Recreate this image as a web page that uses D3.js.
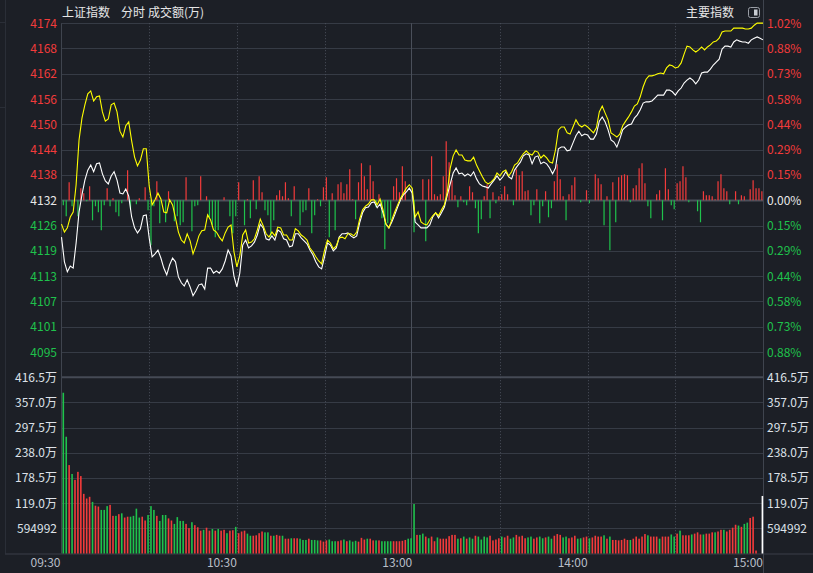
<!DOCTYPE html>
<html>
<head>
<meta charset="utf-8">
<script src="https://cdn.jsdelivr.net/npm/d3@7"></script>
<style>
  html, body { margin: 0; padding: 0; background: #1c1f26; }
  svg { display: block; font-family: "Noto Sans CJK SC", "Noto Sans", sans-serif; }
</style>
</head>
<body>
<svg id="chart" width="813" height="573"></svg>
<script>
// 上证指数 one-minute series, 09:30 .. 11:30 + 13:01 .. 15:00 (241 points)
var indexPrice = [
  4123.4,4117.5,4115.1,4116.5,4116.0,4122.0,4129.4,4133.5,4137.0,4139.4,
  4140.6,4139.0,4140.9,4141.1,4138.5,4136.8,4136.1,4138.0,4139.0,4137.0,
  4133.9,4133.7,4134.9,4133.2,4128.2,4125.6,4124.4,4125.4,4128.5,4128.7,
  4123.2,4118.7,4119.4,4120.3,4118.4,4116.0,4114.4,4116.8,4118.4,4117.5,
  4113.9,4112.5,4111.7,4113.2,4111.5,4109.4,4110.6,4112.0,4112.2,4111.0,
  4116.0,4116.0,4114.8,4115.3,4114.8,4115.8,4117.7,4120.3,4118.9,4114.1,
  4111.5,4114.8,4121.5,4122.7,4120.8,4121.3,4122.2,4123.9,4126.5,4125.6,
  4123.0,4122.7,4123.7,4122.7,4125.1,4124.6,4123.0,4122.7,4121.1,4121.3,
  4124.2,4124.2,4123.2,4122.5,4121.8,4120.3,4119.2,4117.5,4116.3,4115.8,
  4118.7,4122.0,4121.5,4120.1,4120.8,4123.4,4124.2,4124.2,4124.4,4123.7,
  4123.2,4123.7,4126.8,4129.2,4130.4,4130.6,4131.6,4131.8,4130.4,4131.3,
  4129.2,4126.5,4125.6,4127.0,4128.7,4130.6,4132.3,4133.5,4134.2,4135.1,
  4133.9,4127.0,4126.3,4125.6,4125.6,4125.6,4126.3,4128.2,4129.2,4128.0,
  4129.2,4130.6,4133.5,4136.1,4138.7,4139.9,4138.5,4138.7,4138.0,4138.5,
  4138.0,4139.0,4137.3,4136.1,4135.6,4135.4,4135.1,4136.1,4137.0,4138.0,
  4137.0,4137.8,4139.0,4137.8,4137.3,4139.4,4140.4,4141.3,4142.8,4143.3,
  4143.0,4140.9,4142.5,4142.8,4140.9,4141.3,4140.9,4139.9,4138.5,4139.9,
  4144.5,4144.9,4144.9,4144.0,4144.2,4145.9,4147.6,4148.7,4147.6,4148.0,
  4147.8,4146.8,4146.8,4148.0,4151.1,4152.1,4150.9,4149.0,4146.6,4146.1,
  4144.9,4146.8,4149.0,4149.7,4150.2,4150.4,4151.8,4152.6,4153.8,4155.4,
  4155.7,4155.7,4155.9,4156.6,4157.3,4157.3,4157.3,4158.5,4158.5,4158.1,
  4157.3,4158.3,4159.0,4160.2,4160.9,4161.4,4160.9,4160.0,4160.9,4162.6,
  4162.8,4162.8,4163.5,4164.5,4165.2,4165.9,4168.3,4169.0,4169.0,4168.8,
  4170.0,4170.5,4170.2,4170.0,4170.0,4169.7,4170.5,4170.9,4171.2,4170.9,
  4170.5
];

// yellow line (leading / equal weight index)
var leadPrice = [
  4126.5,4124.6,4125.6,4128.2,4129.4,4135.9,4146.6,4151.8,4155.0,4157.6,
  4158.3,4155.9,4156.9,4157.1,4153.3,4151.1,4151.6,4155.0,4155.4,4153.3,
  4148.7,4147.3,4150.0,4150.9,4146.4,4142.5,4140.4,4141.8,4144.5,4144.5,
  4135.6,4131.1,4132.3,4133.9,4132.5,4129.4,4129.2,4132.3,4131.1,4128.0,
  4124.6,4122.7,4122.0,4124.2,4122.5,4119.4,4121.3,4123.7,4124.9,4125.1,
  4128.7,4127.5,4125.1,4124.6,4123.4,4122.5,4124.4,4125.8,4126.3,4119.9,
  4116.3,4118.9,4123.9,4125.1,4122.0,4122.2,4123.0,4125.1,4127.7,4126.1,
  4124.2,4123.4,4124.6,4123.7,4125.8,4125.6,4123.9,4123.9,4122.7,4122.7,
  4125.4,4124.9,4123.9,4123.4,4122.7,4120.8,4119.9,4118.7,4117.7,4117.0,
  4120.3,4122.7,4122.0,4120.6,4121.3,4123.2,4123.4,4123.0,4124.2,4124.2,
  4123.7,4124.6,4127.7,4129.9,4130.8,4131.3,4132.3,4132.3,4131.1,4132.5,
  4129.9,4126.5,4125.6,4127.5,4129.4,4131.1,4132.7,4133.9,4135.1,4135.9,
  4135.1,4128.2,4129.4,4127.0,4126.5,4126.3,4127.5,4128.5,4129.2,4128.5,
  4129.9,4131.1,4134.2,4139.9,4142.8,4144.2,4143.0,4143.0,4141.8,4141.6,
  4141.6,4142.5,4140.6,4139.2,4137.8,4136.6,4136.1,4136.6,4137.3,4138.7,
  4138.0,4139.0,4139.4,4138.0,4139.0,4140.6,4141.1,4142.3,4143.3,4144.0,
  4143.3,4143.0,4144.0,4143.7,4142.3,4143.0,4142.3,4141.3,4141.1,4144.2,
  4149.0,4149.7,4149.7,4148.3,4148.0,4149.7,4151.4,4150.2,4149.7,4150.2,
  4149.7,4149.0,4148.3,4149.5,4153.3,4154.7,4153.0,4151.4,4148.3,4147.8,
  4147.3,4148.0,4150.0,4151.1,4152.1,4153.3,4154.7,4155.2,4156.9,4159.3,
  4161.1,4161.9,4161.9,4162.1,4162.4,4162.6,4162.4,4163.8,4164.5,4164.3,
  4163.8,4164.0,4165.0,4167.1,4169.0,4168.8,4168.1,4167.6,4168.1,4168.8,
  4168.1,4168.8,4169.3,4170.0,4170.2,4170.9,4172.4,4172.6,4172.6,4172.6,
  4173.3,4173.3,4173.3,4173.3,4173.1,4173.1,4173.3,4174.0,4174.5,4174.5,
  4174.5
];

// red / green strength bars around the previous close
var strength = [
  -5,-16,18,-6,0,-16,12,7,-1,14,
  -20,-6,-12,-30,-5,12,-6,2,-12,-16,
  -3,0,30,-9,0,-4,2,0,13,-10,
  -45,-6,19,-23,0,-22,9,0,-21,-16,
  -25,-22,23,0,-31,-6,-5,24,0,4,
  -17,-25,-37,-30,0,3,0,-16,-33,-16,
  18,0,-25,1,-18,20,-9,24,8,-10,
  -15,-37,-20,5,10,4,18,2,-16,14,
  0,-25,-12,-10,12,-33,-15,1,-6,13,
  23,-37,7,-30,16,18,7,16,31,1,
  -19,18,37,24,11,35,19,-7,6,-18,
  -49,-23,-20,14,22,8,34,19,0,0,
  -32,0,0,21,-41,21,44,6,4,6,
  24,59,38,20,5,-7,4,-2,-5,14,
  8,-8,-33,-19,4,16,-18,8,-3,4,
  6,14,6,0,-5,31,25,29,9,10,
  -15,-5,11,-23,-6,9,-17,-8,19,36,
  21,4,-20,6,15,23,0,-2,0,10,
  -3,0,26,22,16,-25,4,-50,18,-22,
  23,25,26,25,-2,12,15,32,37,17,
  -6,-18,0,6,10,-20,32,11,-5,-9,
  17,19,34,23,-2,0,0,-11,-22,9,
  5,5,4,1,19,26,12,9,-4,0,
  9,-4,5,4,0,11,20,12,12,9,
  0
];

// turnover per minute, in 万
var turnover = [
  380,276,209,188,174,193,183,141,130,134,
  122,113,111,103,103,112,115,89,89,93,
  95,85,87,87,89,106,85,87,78,91,
  112,103,89,77,91,91,83,78,70,86,
  77,77,70,60,74,67,62,54,56,61,
  54,58,54,58,54,56,48,54,55,63,
  48,52,54,47,42,42,43,48,52,50,
  50,42,42,44,42,42,35,35,36,36,
  36,35,32,32,35,32,32,31,31,28,
  31,33,29,29,29,31,33,29,31,28,
  30,28,37,33,35,35,31,31,31,29,
  29,29,29,29,29,29,30,32,35,36,
  117,44,44,47,40,36,40,29,38,35,
  35,35,41,44,44,35,36,40,35,38,
  35,42,40,33,40,38,42,31,33,36,
  40,38,42,35,38,44,40,42,36,38,
  40,35,38,40,36,38,40,35,42,46,
  44,38,40,36,38,42,35,36,38,40,
  36,38,42,40,40,43,35,40,32,32,
  31,32,35,32,32,35,40,35,40,46,
  43,40,40,40,35,40,40,40,45,40,
  47,54,43,43,43,45,47,50,45,45,
  47,47,50,50,52,56,56,52,56,61,
  68,66,63,70,73,84,87,7,0,0,
  136
];
// R = up minute, G = down minute, W = flat
var turnoverDir = (
  "GGRGRRRRRR" + "GRRGGGRRGR" + "GRRGGGGRRG" + "GGRGGGRRGG" + "GGRRGRRRGR" +
  "RGRGRRGRRG" + "RRRGGRRRRG" + "GRGRRGRRGR" + "RGGGRGGGRR" + "RGGGRRGRGG" +
  "GRRRGRRGRG" + "GGGRRRRRGG" + "GRGGRGRRGR" + "RRRRRGRGRG" + "GRGGGGRRRR" +
  "GRRGGRRRRG" + "GRRGGRGGRR" + "RGGRRRGGRR" + "GRRRRGRGRR" + "RRRRGRRRRR" +
  "GRRRGRRRGG" + "RGRRRGRRRG" + "RRRGRRGRRR" + "RGRGGRRRRR" + "W").split("");

var prevClose = 4132.2;
var priceStep = 6.04;
var priceLabels = ["4174","4168","4162","4156","4150","4144","4138","4132",
                   "4126","4119","4113","4107","4101","4095"];
var pctLabels = ["1.02%","0.88%","0.73%","0.58%","0.44%","0.29%","0.15%","0.00%",
                 "0.15%","0.29%","0.44%","0.58%","0.73%","0.88%"];
var volTicks = [416.5, 357.0, 297.5, 238.0, 178.5, 119.0, 59.5];
var volLabels = ["416.5万","357.0万","297.5万","238.0万","178.5万","119.0万","594992"];
var timeTicks = [0, 60, 120, 180, 240];
var timeLabels = ["09:30","10:30","13:00","14:00","15:00"];
var dottedTimes = [30, 60, 90, 150, 180, 210];

(function() {
  var RED = "#f23b3b", GREEN = "#1fc24c", GRID = "#363b45";
  var plotLeft = 61.5, plotRight = 763, plotTop = 23.2, priceBottom = 377.3, plotBottom = 553.5;

  var svg = d3.select("#chart");
  svg.append("rect").attr("width", 813).attr("height", 573).attr("fill", "#1c1f26");

  var x = d3.scaleLinear().domain([0, 240]).range([plotLeft, plotRight]);
  var y = d3.scaleLinear()
    .domain([prevClose - 7 * priceStep, prevClose + 7 * priceStep])
    .range([priceBottom, plotTop]);
  var yVol = d3.scaleLinear().domain([0, 416.5]).range([plotBottom, priceBottom]);
  var barLen = d3.scaleLinear().domain([0, 60]).range([0, 60]);
  var y0 = y(prevClose);

  // outer frame
  svg.append("line").attr("x1", 5.5).attr("x2", 5.5).attr("y1", 0).attr("y2", plotBottom)
    .attr("stroke", "#2a2e37");
  svg.append("line").attr("x1", 0).attr("x2", 5).attr("y1", 22.5).attr("y2", 22.5)
    .attr("stroke", "#2a2e37");
  svg.append("line").attr("x1", 0).attr("x2", 5).attr("y1", 107.5).attr("y2", 107.5)
    .attr("stroke", "#2a2e37");

  // horizontal price grid
  var kList = d3.range(7, -7, -1);
  svg.append("g").selectAll("line").data(kList).enter().append("line")
    .attr("x1", plotLeft).attr("x2", plotRight)
    .attr("y1", function(k) { return Math.round(y(prevClose + k * priceStep)) + 0.5; })
    .attr("y2", function(k) { return Math.round(y(prevClose + k * priceStep)) + 0.5; })
    .attr("stroke", function(k) { return k === 0 ? "#4a505b" : GRID; })
    .attr("stroke-width", function(k) { return k === 0 ? 2 : 1; });

  // volume grid
  svg.append("g").selectAll("line").data(volTicks.slice(1)).enter().append("line")
    .attr("x1", plotLeft).attr("x2", plotRight)
    .attr("y1", function(d) { return Math.round(yVol(d)) + 0.5; })
    .attr("y2", function(d) { return Math.round(yVol(d)) + 0.5; })
    .attr("stroke", GRID);
  svg.append("line").attr("x1", plotLeft).attr("x2", plotRight)
    .attr("y1", priceBottom).attr("y2", priceBottom).attr("stroke", "#454a55").attr("stroke-width", 2);
  svg.append("line").attr("x1", 5).attr("x2", 813)
    .attr("y1", plotBottom + 0.5).attr("y2", plotBottom + 0.5).attr("stroke", "#3a3f49");

  // vertical time lines
  svg.append("g").selectAll("line").data(dottedTimes).enter().append("line")
    .attr("x1", function(d) { return Math.round(x(d)) + 0.5; })
    .attr("x2", function(d) { return Math.round(x(d)) + 0.5; })
    .attr("y1", plotTop).attr("y2", plotBottom)
    .attr("stroke", "#4a4f5a").attr("stroke-dasharray", "1,2");
  svg.append("line").attr("x1", Math.round(x(120)) - 0.5).attr("x2", Math.round(x(120)) - 0.5)
    .attr("y1", plotTop).attr("y2", plotBottom).attr("stroke", "#4a4f5a");
  svg.append("line").attr("x1", Math.round(plotLeft) - 0.5).attr("x2", Math.round(plotLeft) - 0.5)
    .attr("y1", plotTop).attr("y2", plotBottom).attr("stroke", "#3f444e");
  svg.append("line").attr("x1", plotRight + 0.5).attr("x2", plotRight + 0.5)
    .attr("y1", 0).attr("y2", 573).attr("stroke", "#3f444e");

  function barX(i) { return Math.min(x(i) + 1.2, plotRight - 1.2); }

  // strength bars (keep the minute index before dropping empty minutes)
  var strengthPts = strength
    .map(function(v, i) { return { i: i, v: v }; })
    .filter(function(d) { return d.v !== 0; });
  svg.append("g").selectAll("rect").data(strengthPts).enter().append("rect")
    .attr("x", function(d) { return barX(d.i); })
    .attr("width", 1.2)
    .attr("y", function(d) { return d.v > 0 ? y0 - barLen(d.v) : y0; })
    .attr("height", function(d) { return barLen(Math.abs(d.v)); })
    .attr("fill", function(d) { return d.v > 0 ? RED : GREEN; });

  // turnover bars
  svg.append("g").selectAll("rect").data(turnover).enter().append("rect")
    .attr("x", function(d, i) { return barX(i) - 0.2; })
    .attr("width", 1.6)
    .attr("y", function(d) { return yVol(d); })
    .attr("height", function(d) { return plotBottom - yVol(d); })
    .attr("fill", function(d, i) {
      var c = turnoverDir[i];
      return c === "R" ? RED : (c === "G" ? GREEN : "#ffffff");
    });

  // price lines
  var line = d3.line()
    .x(function(d, i) { return x(i); })
    .y(function(d) { return y(d); });
  svg.append("path").datum(indexPrice).attr("d", line)
    .attr("fill", "none").attr("stroke", "#ffffff").attr("stroke-width", 1.1);
  svg.append("path").datum(leadPrice).attr("d", line)
    .attr("fill", "none").attr("stroke", "#ffff00").attr("stroke-width", 1.1);

  // axis labels
  function labelColor(k) { return k > 0 ? RED : (k < 0 ? GREEN : "#e8e8e8"); }
  var lab = svg.append("g").attr("font-size", 12);
  lab.selectAll("text.pl").data(kList).enter().append("text")
    .attr("class", "pl")
    .attr("x", 57).attr("text-anchor", "end")
    .attr("y", function(k) { return y(prevClose + k * priceStep) + 4.5; })
    .attr("fill", labelColor)
    .text(function(k, i) { return priceLabels[i]; });
  lab.selectAll("text.pr").data(kList).enter().append("text")
    .attr("class", "pr")
    .attr("x", 767)
    .attr("y", function(k) { return y(prevClose + k * priceStep) + 4.5; })
    .attr("fill", labelColor)
    .text(function(k, i) { return pctLabels[i]; });
  lab.selectAll("text.vl").data(volTicks).enter().append("text")
    .attr("class", "vl")
    .attr("x", 57).attr("text-anchor", "end")
    .attr("y", function(d) { return yVol(d) + 4.5; })
    .attr("fill", "#dde1e8")
    .text(function(d, i) { return volLabels[i]; });
  lab.selectAll("text.vr").data(volTicks).enter().append("text")
    .attr("class", "vr")
    .attr("x", 767)
    .attr("y", function(d) { return yVol(d) + 4.5; })
    .attr("fill", "#dde1e8")
    .text(function(d, i) { return volLabels[i]; });
  lab.selectAll("text.tl").data(timeTicks).enter().append("text")
    .attr("class", "tl")
    .attr("x", function(d) { return d === 0 ? x(d) - 1 : x(d); })
    .attr("text-anchor", "end")
    .attr("y", 567)
    .attr("fill", "#b8bec8")
    .text(function(d, i) { return timeLabels[i]; });

  // header
  var head = svg.append("g").attr("font-size", 12).attr("fill", "#e6e6e6");
  head.append("text").attr("x", 62).attr("y", 17).text("上证指数");
  head.append("text").attr("x", 121).attr("y", 17).text("分时");
  head.append("text").attr("x", 148).attr("y", 17).text("成交额(万)");
  head.append("text").attr("x", 686).attr("y", 17).text("主要指数");
  svg.append("rect").attr("x", 748.5).attr("y", 7.5).attr("width", 11).attr("height", 10)
    .attr("rx", 2).attr("fill", "none").attr("stroke", "#9a9ea6");
  svg.append("rect").attr("x", 754).attr("y", 9.5).attr("width", 3.5).attr("height", 6)
    .attr("fill", "#c8ccd2");
})();
</script>
</body>
</html>
